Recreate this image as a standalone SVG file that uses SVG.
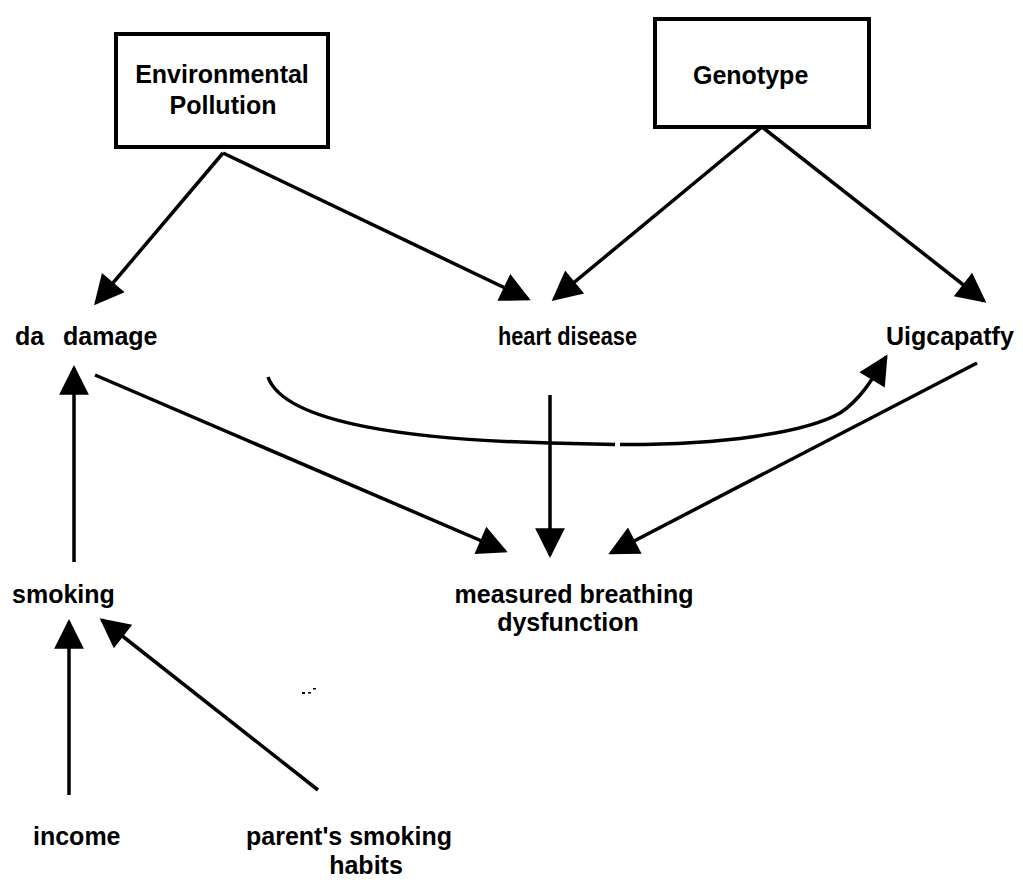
<svg xmlns="http://www.w3.org/2000/svg" width="1023" height="883" viewBox="0 0 1023 883">
<style>
.lbl{font-family:"Liberation Sans",Arial,sans-serif;font-weight:bold;font-size:25px;fill:#000}
.box{fill:#fff;stroke:#000;stroke-width:4}
.edge{fill:none;stroke:#000;stroke-width:3.5}
</style>
<defs>
<marker id="ah" viewBox="0 0 10 10" refX="9" refY="5" markerWidth="9.5" markerHeight="8.5" markerUnits="strokeWidth" orient="auto">
<path d="M0,0 L10,5 L0,10 z" fill="#000"/>
</marker>
</defs>
<rect width="1023" height="883" fill="#fff"/>
<g id="connectors">
<line class="edge" x1="223" y1="153" x2="96" y2="303" marker-end="url(#ah)"/>
<line class="edge" x1="223" y1="153" x2="528" y2="299" marker-end="url(#ah)"/>
<line class="edge" x1="762" y1="127" x2="554" y2="299" marker-end="url(#ah)"/>
<line class="edge" x1="762" y1="127" x2="984" y2="301" marker-end="url(#ah)"/>
<line class="edge" x1="95" y1="375" x2="505" y2="551" marker-end="url(#ah)"/>
<line class="edge" x1="550" y1="395" x2="550" y2="555" marker-end="url(#ah)"/>
<line class="edge" x1="977" y1="363" x2="611" y2="553" marker-end="url(#ah)"/>
<path class="edge" d="M268,377 C285,425 420,440 550,443 L615,444.5"/>
<path class="edge" d="M620,444.5 C720,445 805,433 840,413 C860,400 872,380 886,357" marker-end="url(#ah)"/>
<line class="edge" x1="74" y1="562" x2="74" y2="368" marker-end="url(#ah)"/>
<line class="edge" x1="69" y1="795" x2="69" y2="622" marker-end="url(#ah)"/>
<line class="edge" x1="318" y1="790" x2="102" y2="620" marker-end="url(#ah)"/>
</g>
<g id="specks" fill="#000">
<rect x="302" y="692" width="3" height="2"/>
<rect x="308" y="692" width="3" height="1.5"/>
<rect x="313" y="688" width="3" height="1.5"/>
</g>
<g id="env">
<rect class="box" x="116" y="34" width="212" height="113"/>
<text class="lbl" x="222" y="83" font-size="24" text-anchor="middle">Environmental</text>
<text class="lbl" x="223" y="114" font-size="24" text-anchor="middle">Pollution</text>
</g>
<g id="genotype">
<rect class="box" x="655" y="19" width="214" height="108"/>
<text class="lbl" x="693" y="84" font-size="24">Genotype</text>
</g>
<g id="dadamage"><text class="lbl" x="15" y="345" font-size="22">da<tspan x="63">damage</tspan></text></g>
<g id="heart"><text class="lbl" x="498" y="345" font-size="24" textLength="139" lengthAdjust="spacingAndGlyphs">heart disease</text></g>
<g id="uig"><text class="lbl" x="886" y="345">Uigcapatfy</text></g>
<g id="smoking"><text class="lbl" x="12" y="603">smoking</text></g>
<g id="measured">
<text class="lbl" x="574" y="603" text-anchor="middle">measured breathing</text>
<text class="lbl" x="568" y="631" text-anchor="middle">dysfunction</text>
</g>
<g id="income"><text class="lbl" x="33" y="845">income</text></g>
<g id="parents">
<text class="lbl" x="349" y="845" text-anchor="middle">parent's smoking</text>
<text class="lbl" x="366" y="874" text-anchor="middle">habits</text>
</g>
</svg>
